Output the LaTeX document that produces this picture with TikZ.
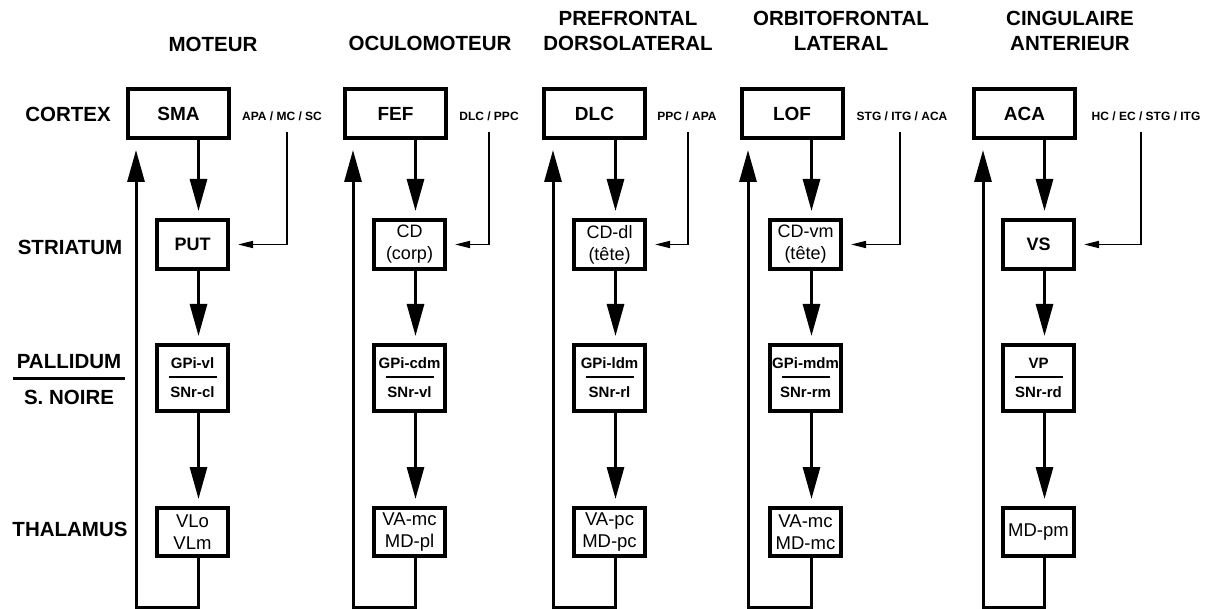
\documentclass[tikz,border=0pt]{standalone}
\usepackage{fontspec}
\setmainfont{Liberation Sans}
\usetikzlibrary{arrows.meta,calc}

\newcommand{\midRule}{\rule[5pt]{48pt}{2.5pt}}

\tikzset{
    header/.style={font=\fontsize{20.5}{25}\selectfont\bfseries, align=center, inner sep=0pt},
    rowLabel/.style={font=\fontsize{20.5}{18}\selectfont\bfseries, align=center, inner sep=0pt},
    srcLabel/.style={font=\fontsize{12}{14}\selectfont\bfseries, inner sep=0pt},
    cortexBox/.style={draw, line width=4pt, minimum width=101pt, minimum height=49pt, inner sep=0pt,
        font=\fontsize{19}{22}\selectfont\bfseries},
    striBox/.style={draw, line width=4pt, minimum width=71pt, minimum height=49pt, inner sep=0pt,
        align=center, font=\fontsize{18}{22}\selectfont},
    palBox/.style={draw, line width=4pt, minimum width=71pt, minimum height=66pt, inner sep=0pt,
        align=center, font=\fontsize{15}{14.5}\selectfont\bfseries},
    thalBox/.style={draw, line width=4pt, minimum width=71pt, minimum height=48pt, inner sep=0pt,
        align=center, font=\fontsize{18.5}{22}\selectfont},
    mainArrow/.style={line width=3pt, -{Triangle[width=17pt,length=32pt]}, shorten >=7pt},
    thinArrow/.style={line width=1.6pt, -{Triangle[width=7pt,length=15pt]}, shorten >=8pt}
}

\begin{document}
\begin{tikzpicture}[x=1pt,y=-1pt]
% Fix the page size
\useasboundingbox (0,0) rectangle (1207,609);

% Shift of the vertical arrows from the box centres
\def\arrowShift{6}

% Column headers
\node[header] (hMoteur) at (213,44) {MOTEUR};
\node[header] (hOculo) at (430,43) {OCULOMOTEUR};
\node[header] (hPrefront) at (628,31) {PREFRONTAL\\DORSOLATERAL};
\node[header] (hOrbito) at (841,31) {ORBITOFRONTAL\\LATERAL};
\node[header] (hCingul) at (1070,31) {CINGULAIRE\\ANTERIEUR};

% Row labels
\node[rowLabel] (rCortex) at (68,114) {CORTEX};
\node[rowLabel] (rStriatum) at (70,247) {STRIATUM};
\node[rowLabel] (rPallidum) at (69,380) {PALLIDUM\\\rule[7pt]{112pt}{3pt}\\S. NOIRE};
\node[rowLabel] (rThalamus) at (70,529) {THALAMUS};

% Cortex boxes
\node[cortexBox] (ctx1) at (178.5,113.5) {SMA};
\node[cortexBox] (ctx2) at (395.5,113.5) {FEF};
\node[cortexBox] (ctx3) at (594.5,113.5) {DLC};
\node[cortexBox] (ctx4) at (792,113.5) {LOF};
\node[cortexBox] (ctx5) at (1024.5,113.5) {ACA};

% Striatum boxes
\node[striBox] (str1) at (192.5,244.5) {\bfseries PUT};
\node[striBox] (str2) at (409.5,244.5) {CD\\(corp)};
\node[striBox] (str3) at (609.5,244.5) {CD-dl\\(tête)};
\node[striBox] (str4) at (805.5,244.5) {CD-vm\\(tête)};
\node[striBox] (str5) at (1038.5,244.5) {\bfseries VS};

% Pallidum / substance noire boxes
\node[palBox] (pal1) at (192.5,378) {GPi-vl\\\midRule\\SNr-cl};
\node[palBox] (pal2) at (409.5,378) {GPi-cdm\\\midRule\\SNr-vl};
\node[palBox] (pal3) at (609.5,378) {GPi-ldm\\\midRule\\SNr-rl};
\node[palBox] (pal4) at (805.5,378) {GPi-mdm\\\midRule\\SNr-rm};
\node[palBox] (pal5) at (1038.5,378) {VP\\\midRule\\SNr-rd};

% Thalamus boxes
\node[thalBox] (tha1) at (192.5,532) {VLo\\VLm};
\node[thalBox] (tha2) at (409.5,532) {VA-mc\\MD-pl};
\node[thalBox] (tha3) at (609.5,532) {VA-pc\\MD-pc};
\node[thalBox] (tha4) at (805.5,532) {VA-mc\\MD-mc};
\node[thalBox] (tha5) at (1038.5,532) {MD-pm};

% Extra cortical inputs
\node[srcLabel] (src1) at (282,116) {APA / MC / SC};
\node[srcLabel] (src2) at (489,116) {DLC / PPC};
\node[srcLabel] (src3) at (687,116) {PPC / APA};
\node[srcLabel] (src4) at (902,116) {STG / ITG / ACA};
\node[srcLabel] (src5) at (1146,116) {HC / EC / STG / ITG};

% Turning points of the inputs and of the loops
\foreach \i/\inX/\loopX in {1/287/136, 2/489/353, 3/688/553, 4/900/748, 5/1141/983} {
    \coordinate (in\i) at (\inX,132);
    \coordinate (loop\i) at (\loopX,607);
}

% Draw each circuit
\foreach \i in {1,...,5} {
    \draw[mainArrow] ($(ctx\i.south -| str\i.north)+(\arrowShift,0)$) -- ($(str\i.north)+(\arrowShift,0)$);
    \draw[mainArrow] ($(str\i.south)+(\arrowShift,0)$) -- ($(pal\i.north)+(\arrowShift,0)$);
    \draw[mainArrow] ($(pal\i.south)+(\arrowShift,0)$) -- ($(tha\i.north)+(\arrowShift,0)$);
    \draw[mainArrow, shorten >=10pt] ($(tha\i.south)+(\arrowShift,0)$) |- (loop\i) -- (loop\i |- ctx\i.south);
    \draw[thinArrow] (in\i) |- (str\i.east);
}

\end{tikzpicture}
\end{document}
